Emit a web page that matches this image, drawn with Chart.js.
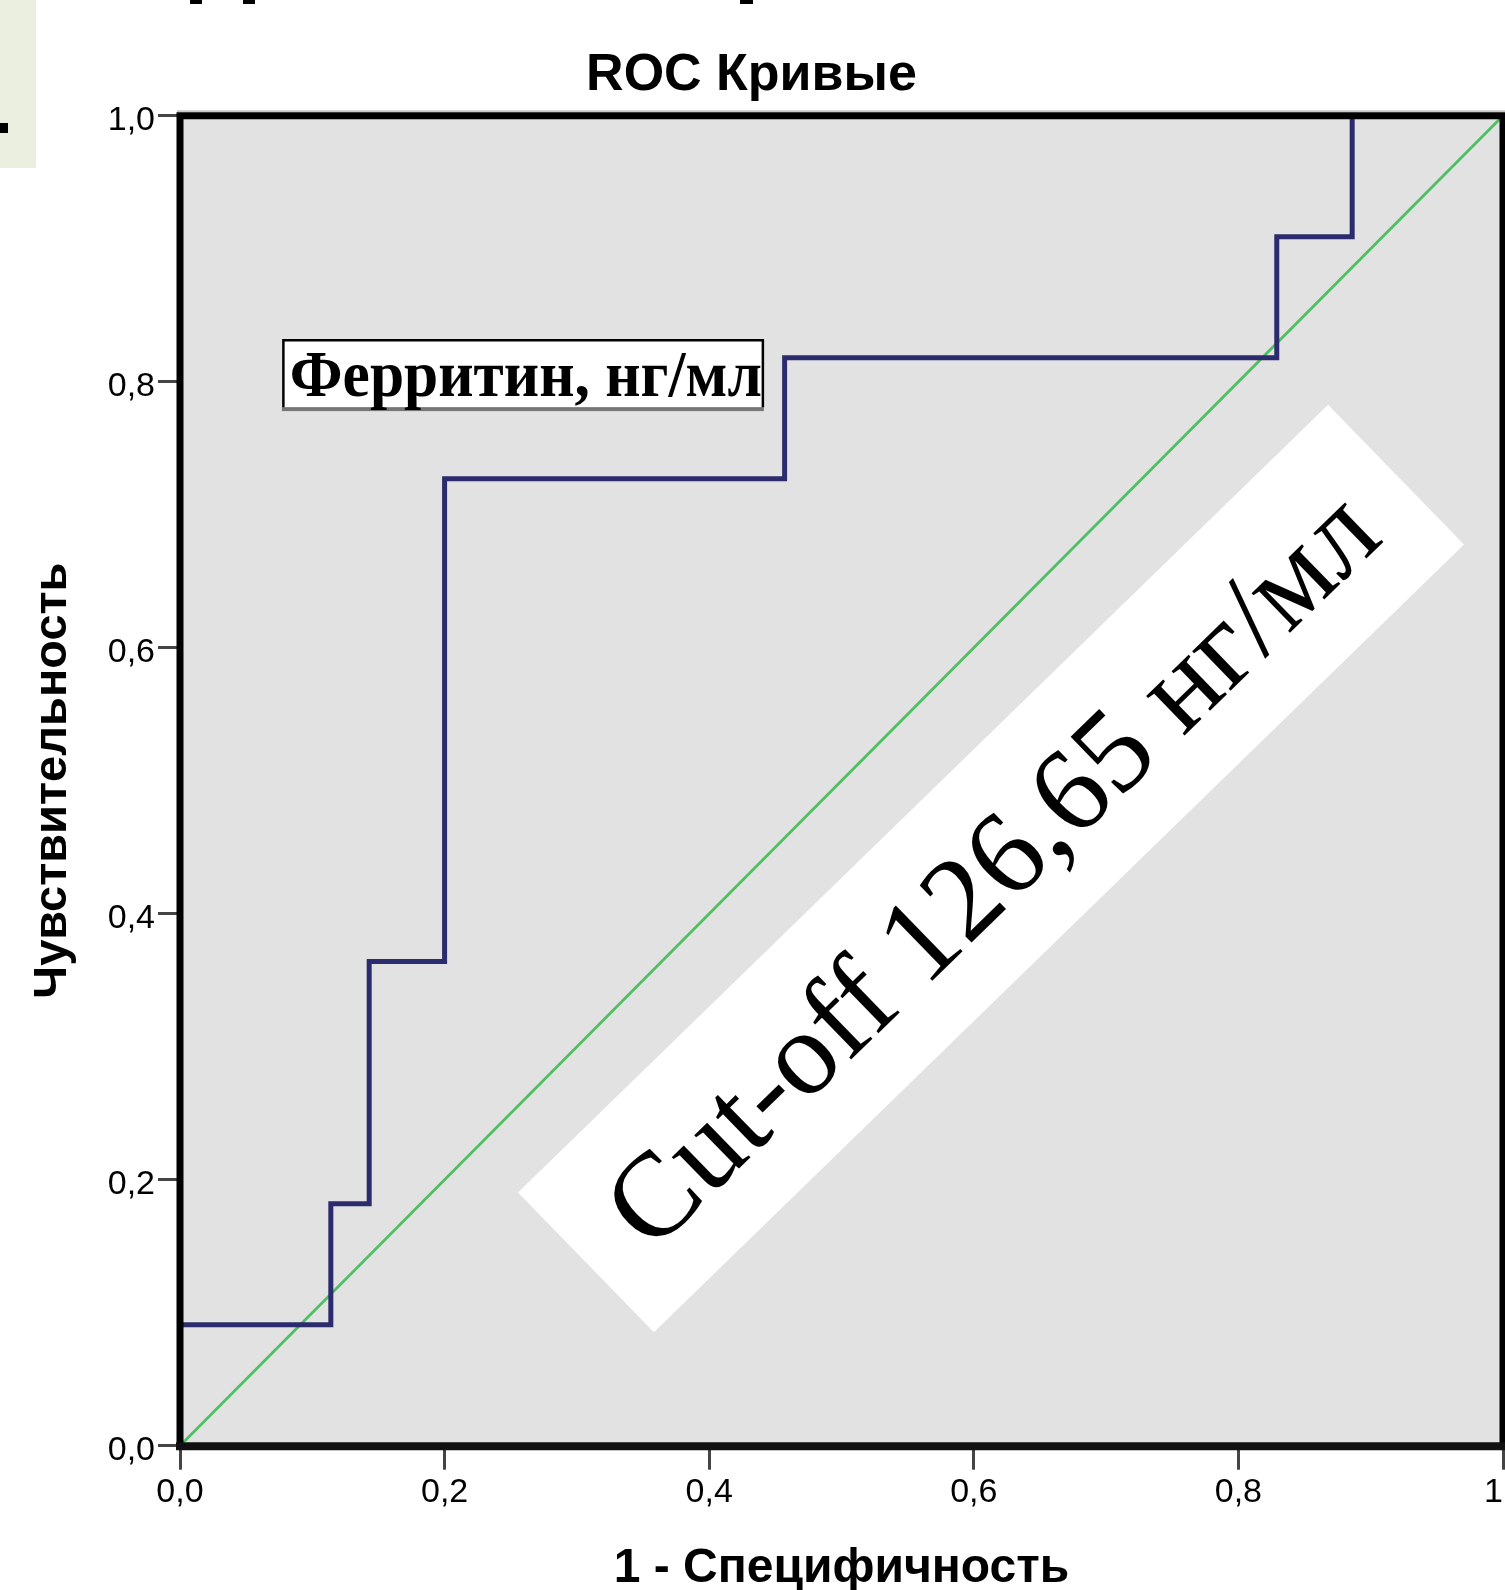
<!DOCTYPE html>
<html><head><meta charset="utf-8">
<script src="https://cdn.jsdelivr.net/npm/chart.js@4.4.1/dist/chart.umd.min.js"></script>
<style>html,body{margin:0;padding:0;background:#fff;overflow:hidden}canvas{display:block}</style>
</head><body>
<canvas id="c" width="1505" height="1590"></canvas>
<script>
// ---- data ----
const chartTitle = 'ROC Кривые';
const xTitle = '1 - Специфичность';
const yTitle = 'Чувствительность';
const seriesLabel = 'Ферритин, нг/мл';
const cutoffLabel = 'Cut-off 126,65 нг/мл';
const xTicks = [0, 0.2, 0.4, 0.6, 0.8, 1];
const yTicks = [0, 0.2, 0.4, 0.6, 0.8, 1];
const xTickLabels = ['0,0', '0,2', '0,4', '0,6', '0,8', '1\u2007'];
const yTickLabels = ['0,0', '0,2', '0,4', '0,6', '0,8', '1,0'];
// ROC curve corner points (1 - specificity, sensitivity)
const rocFpr = [0, 0, 0.114, 0.114, 0.143, 0.143, 0.200, 0.200, 0.457, 0.457, 0.829, 0.829, 0.886, 0.886, 1];
const rocTpr = [0, 0.091, 0.091, 0.182, 0.182, 0.364, 0.364, 0.727, 0.727, 0.818, 0.818, 0.909, 0.909, 1, 1];
// reference (chance) line
const refFpr = [0, 1];
const refTpr = [0, 1];

// ---- annotation placement (in data units) ----
const cutoffAt = {x: 0.613, y: 0.434};
const legendAt = {x: 0.077, y: 0.832};

const FONT_SANS = "'Liberation Sans', Arial, sans-serif";
const FONT_SERIF = "'Liberation Serif', 'Times New Roman', serif";

const deco = {
  id: 'deco',
  beforeDraw(chart) {
    const ctx = chart.ctx, a = chart.chartArea;
    ctx.save();
    ctx.fillStyle = '#fff';
    ctx.fillRect(0, 0, chart.width, chart.height);
    ctx.fillStyle = '#ebefe0';
    ctx.fillRect(0, 0, 36, 168);
    ctx.fillStyle = '#000';
    ctx.fillRect(0, 123, 8, 10);
    ctx.fillRect(190, 0, 12, 4);
    ctx.fillRect(243, 0, 12, 4);
    ctx.fillRect(740, 0, 13, 4);
    ctx.fillStyle = '#e2e2e2';
    ctx.fillRect(a.left, a.top, a.right - a.left, a.bottom - a.top);
    ctx.restore();
  },
  beforeDatasetsDraw(chart) {
    const ctx = chart.ctx;
    const cx = chart.scales.x.getPixelForValue(cutoffAt.x);
    const cy = chart.scales.y.getPixelForValue(cutoffAt.y);
    const w = 1130, h = 195;
    ctx.save();
    ctx.translate(cx, cy);
    ctx.rotate(-44.2 * Math.PI / 180);
    ctx.fillStyle = '#fff';
    ctx.fillRect(-w / 2, -h / 2, w, h);
    ctx.fillStyle = '#000';
    ctx.font = '120px ' + FONT_SERIF;
    ctx.textAlign = 'center';
    ctx.textBaseline = 'middle';
    ctx.fillText(cutoffLabel, 0, 8);
    ctx.restore();
  },
  afterDatasetsDraw(chart) {
    const ctx = chart.ctx;
    const lx = chart.scales.x.getPixelForValue(legendAt.x);
    const ly = chart.scales.y.getPixelForValue(legendAt.y);
    const w = 482, h = 72;
    ctx.save();
    ctx.fillStyle = '#fff';
    ctx.fillRect(lx, ly, w, h);
    ctx.fillStyle = '#777';
    ctx.fillRect(lx, ly + h - 4, w, 4);
    ctx.strokeStyle = '#000';
    ctx.lineWidth = 2.5;
    ctx.beginPath();
    ctx.moveTo(lx + 1.5, ly + h - 4);
    ctx.lineTo(lx + 1.5, ly + 1);
    ctx.lineTo(lx + w - 1, ly + 1);
    ctx.lineTo(lx + w - 1, ly + h - 4);
    ctx.stroke();
    ctx.fillStyle = '#000';
    ctx.font = 'bold 66px ' + FONT_SERIF;
    ctx.textAlign = 'left';
    ctx.textBaseline = 'alphabetic';
    const mw = ctx.measureText(seriesLabel).width;
    const target = 472;
    ctx.translate(lx + 8, ly + 57);
    ctx.scale(target / mw, 1);
    ctx.fillText(seriesLabel, 0, 0);
    ctx.restore();
  },
  afterDraw(chart) {
    const ctx = chart.ctx, a = chart.chartArea;
    ctx.save();
    ctx.strokeStyle = '#c8c8c8';
    ctx.lineWidth = 2;
    ctx.beginPath();
    ctx.moveTo(a.left - 3, a.top - 4.5);
    ctx.lineTo(a.right + 3, a.top - 4.5);
    ctx.stroke();
    ctx.strokeStyle = '#000';
    ctx.lineCap = 'square';
    ctx.lineWidth = 7;
    ctx.beginPath();
    ctx.moveTo(a.left, a.bottom);
    ctx.lineTo(a.left, a.top);
    ctx.lineTo(a.right, a.top);
    ctx.lineTo(a.right, a.bottom);
    ctx.stroke();
    ctx.strokeStyle = '#111';
    ctx.lineWidth = 8;
    ctx.beginPath();
    ctx.moveTo(a.left, a.bottom + 0.5);
    ctx.lineTo(a.right, a.bottom + 0.5);
    ctx.stroke();
    ctx.restore();
  }
};

const rocData = rocFpr.map((x, i) => ({x, y: rocTpr[i]}));
const refData = refFpr.map((x, i) => ({x, y: refTpr[i]}));

new Chart(document.getElementById('c'), {
  type: 'scatter',
  data: {
    datasets: [
      {label: 'reference', data: refData, showLine: true, borderColor: '#4fbf63', borderWidth: 2.8, pointRadius: 0, fill: false, order: 2},
      {label: seriesLabel, data: rocData, showLine: true, borderColor: '#2b2b6e', borderWidth: 5, pointRadius: 0, fill: false, order: 1, borderJoinStyle: 'miter'}
    ]
  },
  options: {
    responsive: false,
    animation: false,
    devicePixelRatio: 1,
    layout: {padding: {top: 0, left: 0, right: 2, bottom: 0}},
    plugins: {
      legend: {display: false},
      tooltip: {enabled: false},
      title: {
        display: true, text: chartTitle, color: '#000',
        font: {family: FONT_SANS, size: 52, weight: 'bold', lineHeight: 1.2},
        padding: {top: 44, bottom: 9.3}
      }
    },
    scales: {
      x: {
        type: 'linear', min: 0, max: 1,
        afterBuildTicks: s => { s.ticks = xTicks.map(v => ({value: v})); },
        afterFit: s => { s.height = 144.3; s.paddingLeft = 0; s.paddingRight = 0; },
        ticks: {callback: (v, i) => xTickLabels[i], font: {family: FONT_SANS, size: 34}, color: '#000', padding: 3, maxRotation: 0, autoSkip: false},
        grid: {drawOnChartArea: false, drawTicks: true, tickLength: 24, tickWidth: 3, tickColor: '#444'},
        border: {display: false},
        title: {display: true, text: xTitle, color: '#000', font: {family: FONT_SANS, size: 48, weight: 'bold', lineHeight: 0.9}, padding: {top: 0, bottom: 0}}
      },
      y: {
        type: 'linear', min: 0, max: 1,
        afterBuildTicks: s => { s.ticks = yTicks.map(v => ({value: v})); },
        afterFit: s => { s.width = 180; s.paddingTop = 0; s.paddingBottom = 0; },
        ticks: {callback: (v, i) => yTickLabels[i], font: {family: FONT_SANS, size: 34}, color: '#000', padding: 3, labelOffset: 5, autoSkip: false},
        grid: {drawOnChartArea: false, drawTicks: true, tickLength: 22, tickWidth: 3, tickColor: '#444'},
        border: {display: false},
        title: {display: true, text: yTitle, color: '#000', font: {family: FONT_SANS, size: 47, weight: 'bold', lineHeight: 1}, padding: {top: 30, bottom: 0}}
      }
    }
  },
  plugins: [deco]
});
</script>
</body></html>
